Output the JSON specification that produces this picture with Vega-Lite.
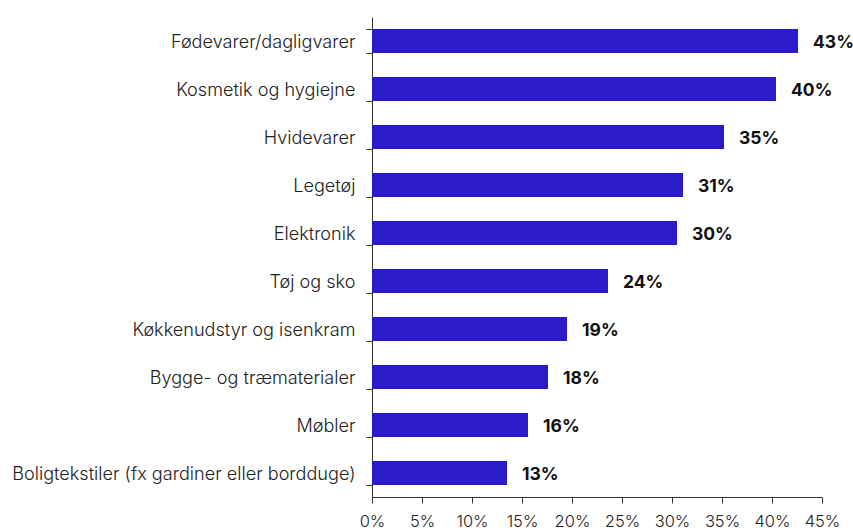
{
  "$schema": "https://vega.github.io/schema/vega-lite/v6.json",
  "autosize": "none",
  "padding": {"left": 372, "top": 17, "right": 31, "bottom": 34},
  "width": 450,
  "height": 480,
  "background": "white",
  "config": {"view": {"stroke": null}, "font": "Inter"},
  "data": {"values": [
    {"cat": "Fødevarer/dagligvarer", "v": 42.6, "label": "43%"},
    {"cat": "Kosmetik og hygiejne", "v": 40.4, "label": "40%"},
    {"cat": "Hvidevarer", "v": 35.2, "label": "35%"},
    {"cat": "Legetøj", "v": 31.1, "label": "31%"},
    {"cat": "Elektronik", "v": 30.5, "label": "30%"},
    {"cat": "Tøj og sko", "v": 23.6, "label": "24%"},
    {"cat": "Køkkenudstyr og isenkram", "v": 19.5, "label": "19%"},
    {"cat": "Bygge- og træmaterialer", "v": 17.6, "label": "18%"},
    {"cat": "Møbler", "v": 15.6, "label": "16%"},
    {"cat": "Boligtekstiler (fx gardiner eller bordduge)", "v": 13.5, "label": "13%"}
  ]},
  "encoding": {
    "y": {"field": "cat", "type": "nominal", "sort": null, "title": null,
      "scale": {"paddingInner": 0.5, "paddingOuter": 0.25},
      "axis": {"tickBand": "extent", "domainColor": "#333", "tickColor": "#333", "tickSize": 6, "labelPadding": 11, "labelFontSize": 18.1, "labelColor": "#222", "labelFont": "Inter", "labelFontWeight": 300, "labelLimit": 400, "labelBaseline": "middle", "labelOffset": 1}},
    "x": {"field": "v", "type": "quantitative", "title": null,
      "scale": {"domain": [0, 45]},
      "axis": {"values": [0,5,10,15,20,25,30,35,40,45], "format": ".0f", "labelExpr": "datum.label + '%'", "grid": false, "domainColor": "#333", "tickColor": "#333", "tickSize": 6, "labelPadding": 10, "labelFontSize": 16.5, "labelColor": "#222", "labelFont": "Inter", "labelFontWeight": 300, "labelFlush": false}}
  },
  "layer": [
    {"mark": {"type": "bar", "color": "#2b1bc9"}},
    {"mark": {"type": "text", "align": "left", "dx": 15, "dy": 2, "fontSize": 17.5, "fontWeight": "bold", "font": "Inter", "color": "#111"},
      "encoding": {"text": {"field": "label"}}}
  ]
}
